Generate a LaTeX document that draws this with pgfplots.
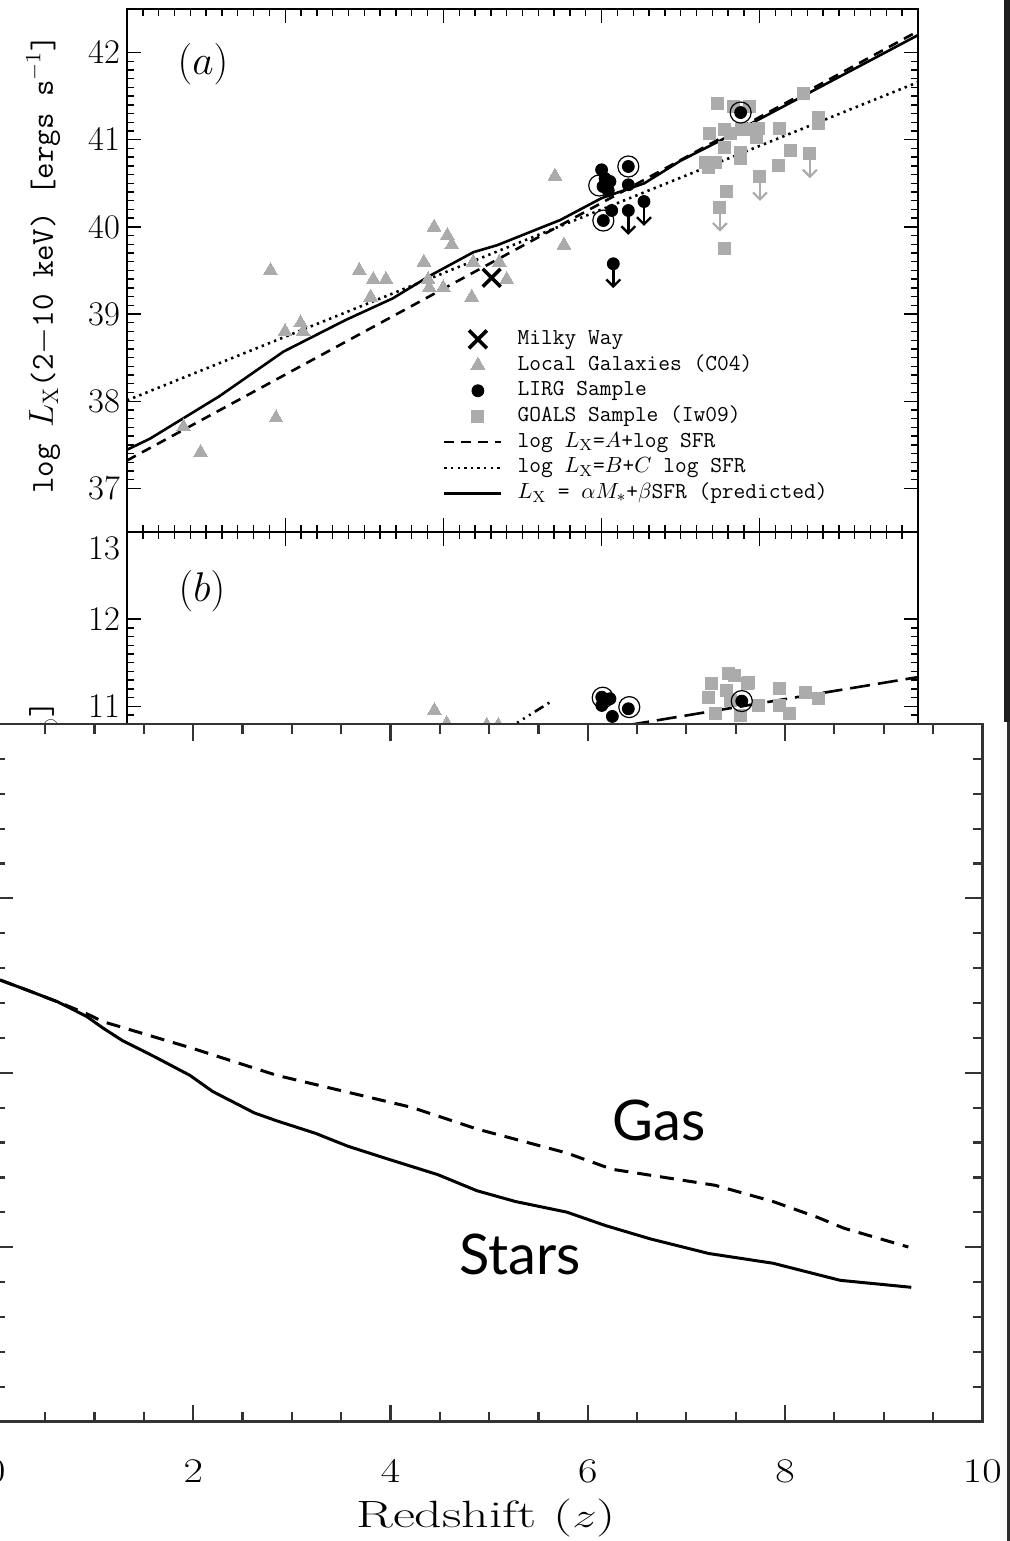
\documentclass[border=0pt]{standalone}
\usepackage{graphicx}
\usepackage{pgfplots}
\pgfplotsset{compat=1.18}
\usepackage{fontspec}
\newfontfamily\gill{Lato}
\usetikzlibrary{arrows.meta}
\definecolor{ptgray}{HTML}{ABABAB}
\definecolor{framegray}{HTML}{333333}

\begin{document}
\begin{tikzpicture}
\useasboundingbox (0,0) rectangle (505pt,770.5pt);
\pgfplotsset{
  panel/.style={
    scale only axis, width=395.5pt, height=261.5pt,
    xmin=0, xmax=5, xtick={0,...,5}, minor x tick num=9,
    xticklabels={},
    minor y tick num=9,
    axis line style={line width=0.8pt},
    tick style={line width=0.7pt, black},
    major tick length=7pt, minor tick length=3.5pt,
    xtick pos=both, ytick pos=both, tick align=inside,
    yticklabel style={font=\fontsize{16}{18}\selectfont},
    every axis y label/.style={rotate=90, font=\fontsize{16}{19}\selectfont\ttfamily},
  },
}
% ---------------- panel (a)
\begin{axis}[panel, at={(63.5pt,766pt)}, anchor=north west,
  ymin=36.5, ymax=42.5, ytick={37,...,42},
  ylabel={log $L_{\mathrm{X}}$(2$-$10 keV) [ergs s$^{-1}$]},
  every axis y label/.append style={at={(axis description cs:-0.106,0.512)}, anchor=center},
  legend style={draw=none, fill=none, at={(axis description cs:0.3995,0.3929)}, anchor=north west,
    inner sep=0pt, outer sep=0pt, column sep=7.5pt, row sep=0pt,
    font=\fontsize{11.4}{12.85}\selectfont\ttfamily,
    nodes={inner sep=0pt, text height=9pt, text depth=3.85pt}},
  legend cell align=left,
  legend image code/.code={\draw[mark repeat=2,mark phase=2,#1] plot coordinates {(0pt,0pt) (16.8pt,0pt) (28.5pt,0pt)};},
]
\addlegendimage{only marks, mark=x, mark size=6.3pt, line width=1.8pt, black}
\addlegendentry{Milky Way}
\addlegendimage{only marks, mark=triangle*, mark size=4pt, ptgray, mark options={line width=0pt}}
\addlegendentry{Local Galaxies (C04)}
\addlegendimage{only marks, mark=*, mark size=3pt, black}
\addlegendentry{LIRG Sample}
\addlegendimage{only marks, mark=square*, mark size=3pt, ptgray, mark options={line width=0pt}}
\addlegendentry{GOALS Sample (Iw09)}
\addlegendimage{no markers, black, line width=1.3pt, dash pattern=on 5pt off 3.5pt}
\addlegendentry{log $L_{\mathrm{X}}$=$A$+log SFR}
\addlegendimage{no markers, black, line width=1.3pt, dash pattern=on 1.2pt off 2.1pt}
\addlegendentry{log $L_{\mathrm{X}}$=$B$+$C$ log SFR}
\addlegendimage{no markers, black, line width=1.3pt}
\addlegendentry{$L_{\mathrm{X}}$ = $\alpha M_{\ast}$+$\beta$SFR (predicted)}

% local galaxies (C04)
\addplot[forget plot, only marks, mark=triangle*, mark size=4pt, ptgray, mark options={line width=0pt}] table {
x y
0.357 37.705
0.465 37.413
0.907 39.50
0.942 37.808
0.999 38.80
1.097 38.898
1.113 38.80
1.468 39.50
1.557 39.397
1.637 39.397
1.540 39.194
1.877 39.595
1.903 39.397
1.911 39.302
1.941 39.997
1.999 39.302
2.025 39.901
2.053 39.795
2.179 39.194
2.189 39.595
2.353 39.595
2.400 39.397
2.705 40.583
2.762 39.792
};
% GOALS upper limits (arrows)
\addplot[forget plot, no markers, ptgray, line width=1.1pt, -{Straight Barb[length=3.5pt,width=7pt]}, quiver={u=0,v=-0.28}] coordinates {
(4.001,40.578) (4.317,40.838) (3.748,40.226)};
% GOALS sample
\addplot[forget plot, only marks, mark=square*, mark size=3pt, ptgray, mark options={line width=0pt}] table {
x y
3.734 41.419
3.832 41.381
3.938 41.381
3.685 41.075
3.780 41.114
3.812 41.068
3.886 41.114
3.927 41.114
3.991 41.125
3.980 41.029
4.123 41.132
4.370 41.258
4.370 41.182
4.275 41.526
3.780 40.914
3.875 40.857
3.875 40.781
3.654 40.742
3.675 40.678
3.717 40.742
4.191 40.876
4.117 40.704
3.791 40.409
3.780 39.749
4.001 40.578
4.317 40.838
3.748 40.226
};
% relations
\addplot[forget plot, no markers, black, line width=1.3pt, dash pattern=on 5pt off 3.5pt] coordinates {(0,37.32) (5,42.245)};
\addplot[forget plot, no markers, black, line width=1.3pt, dash pattern=on 1.2pt off 2.1pt] coordinates {(0,38.01) (5,41.66)};
\addplot[forget plot, no markers, black, line width=1.3pt] coordinates {
(0,37.443) (0.145,37.57) (0.582,38.055) (0.989,38.569) (1.38,38.93) (1.68,39.18) (1.915,39.44) (2.19,39.71) (2.34,39.79) (2.74,40.08) (3.0,40.33) (3.27,40.50) (3.50,40.76) (3.75,40.99) (3.96,41.20) (5.0,42.20)};
% LIRG upper limits
\addplot[forget plot, no markers, black, line width=1.2pt, -{Straight Barb[length=3.5pt,width=7pt]}, quiver={u=0,v=-0.28}] coordinates {
(3.169,40.188) (3.268,40.291) (3.074,39.577)};
% LIRG sample
\addplot[forget plot, only marks, mark=*, mark size=3pt, black] table {
x y
3.000 40.655
3.022 40.555
3.053 40.521
3.009 40.463
3.042 40.417
3.169 40.693
3.169 40.483
3.064 40.188
3.011 40.073
3.879 41.312
3.169 40.188
3.268 40.291
3.074 39.577
};
% rings
\addplot[forget plot, only marks, mark=o, mark size=5.25pt, black, mark options={line width=0.6pt}] coordinates {
(2.985,40.475) (3.169,40.693) (3.011,40.073) (3.879,41.312)};
% Milky Way
\addplot[forget plot, only marks, mark=x, mark size=6.3pt, line width=1.8pt, black] coordinates {(2.305,39.416)};
\node[font=\fontsize{22}{26}\selectfont] at (axis description cs:0.0961,0.894) {$(a)$};
\end{axis}

% ---------------- panel (b)
\begin{axis}[panel, at={(63.5pt,504.5pt)}, anchor=north west,
  ymin=7, ymax=13, ytick={7,...,12},
  extra y ticks={13}, extra y tick style={yticklabel style={yshift=-8.25pt}},
  ylabel={log $L_{\mathrm{IR}}$ [$L_{\odot}$]},
  every axis y label/.append style={at={(axis description cs:-0.106,0.482)}, anchor=center},
]
\addplot[only marks, mark=triangle*, mark size=4pt, ptgray, mark options={line width=0pt}] coordinates {
(1.943,10.953) (2.021,10.80) (2.274,10.78) (2.347,10.78)};
\addplot[only marks, mark=square*, mark size=3pt, ptgray, mark options={line width=0pt}] table {
x y
3.697 11.259
3.839 11.354
3.920 11.259
3.801 11.374
3.927 11.278
3.791 11.182
3.812 11.068
3.676 11.106
3.994 11.010
4.124 11.202
4.124 11.010
4.185 10.915
3.717 10.915
3.879 10.896
4.286 11.163
4.370 11.090
};
\addplot[no markers, black, line width=1.3pt, dash pattern=on 5pt off 2.5pt on 1pt off 2.5pt on 1pt off 2.5pt on 1pt off 2.5pt] coordinates {(2.0,10.28) (2.685,11.06)};
\addplot[no markers, black, line width=1.3pt, dash pattern=on 10pt off 4pt] coordinates {(3.0,10.734) (5.0,11.335)};
\addplot[only marks, mark=*, mark size=3pt, black] coordinates {
(3.001,11.105) (3.053,11.087) (3.001,11.01) (3.169,10.972) (3.068,10.884) (3.886,11.06)};
\addplot[only marks, mark=o, mark size=5.25pt, black, mark options={line width=0.6pt}] coordinates {
(3.007,11.099) (3.175,10.991) (3.886,11.06)};
\node[font=\fontsize{22}{26}\selectfont] at (axis description cs:0.0949,0.887) {$(b)$};
\end{axis}

% ---------------- bottom panel
\begin{axis}[at={(-2.05pt,408.5pt)}, anchor=north west, scale only axis,
  width=493.2pt, height=348.8pt,
  xmin=0, xmax=10, ymin=0, ymax=4,
  xtick={0,2,...,10}, minor x tick num=3,
  ytick={0,...,4}, minor y tick num=4,
  yticklabels={},
  xtick pos=both, ytick pos=both, tick align=inside,
  axis background/.style={fill=white},
  axis line style={framegray, line width=1.2pt},
  tick style={framegray, line width=1.1pt},
  major tick length=8.5pt, minor tick length=4.8pt,
  xticklabel={\scalebox{1.22}[1]{$\pgfmathprintnumber{\tick}$}},
  xticklabel style={font=\fontsize{19}{22}\selectfont, yshift=-15.6pt},
  xlabel={\scalebox{1.42}[1]{Redshift ($z$)}},
  every axis x label/.style={at={(axis description cs:0.497,0)}, anchor=center, yshift=-48.2pt, font=\fontsize{19}{22}\selectfont},
]
\addplot[no markers, black, line width=1.5pt, dash pattern=on 7pt off 4.5pt] coordinates {
(0.042,2.532) (0.303,2.477) (0.63,2.406) (0.92,2.339) (1.087,2.293) (1.544,2.216) (2.0,2.139) (2.85,1.985) (4.22,1.801) (4.875,1.678) (5.788,1.540) (6.245,1.447) (7.29,1.355) (7.878,1.262) (8.335,1.170) (8.596,1.109) (9.25,1.001)};
\addplot[no markers, black, line width=1.5pt] coordinates {
(0.042,2.532) (0.303,2.477) (0.63,2.406) (0.92,2.323) (1.087,2.256) (1.282,2.185) (1.609,2.092) (1.968,1.985) (2.197,1.893) (2.62,1.770) (2.85,1.724) (3.24,1.653) (3.568,1.579) (3.96,1.508) (4.48,1.416) (4.875,1.324) (5.266,1.262) (5.788,1.201) (6.18,1.124) (6.638,1.047) (7.225,0.964) (7.878,0.908) (8.56,0.810) (9.28,0.770)};
\node[anchor=base west, inner sep=0pt, font=\fontsize{28}{30}\selectfont\gill] at (axis cs:6.246,1.609) {Gas};
\node[anchor=base west, inner sep=0pt, font=\fontsize{28}{30}\selectfont\gill] at (axis cs:4.691,0.846) {Stars};
\end{axis}

% right-hand dark border
\fill[black!88] (502.15pt,409.5pt) rectangle (505pt,770.5pt);
\fill[black!82] (503.35pt,0pt) rectangle (505pt,409.5pt);
\end{tikzpicture}
\end{document}
